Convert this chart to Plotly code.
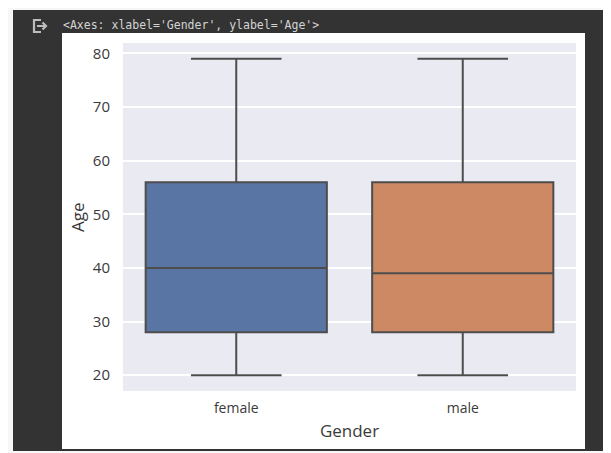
import plotly.graph_objects as go

# ---- data ----
categories = ["female", "male"]
lower_whisker = [20, 20]
q1_values = [28, 28]
medians = [40, 39]
q3_values = [56, 56]
upper_whisker = [79, 79]
y_ticks = [20, 30, 40, 50, 60, 70, 80]
header_text = "<Axes: xlabel='Gender', ylabel='Age'>"
x_title = "Gender"
y_title = "Age"

fill_colors = ["#5875a4", "#cc8963"]
line_gray = "#4d4d4d"

OFF = 8  # default body margin of the html page
W, H = 611 - OFF, 453 - OFF
L, R, T, B = 123 - OFF, 576 - OFF, 43 - OFF, 391 - OFF  # plot area in figure pixels


def px(x):
    return (x - OFF - L) / (R - L)


def py(y):
    return (B - (y - OFF)) / (B - T)


fig = go.Figure()
for i, cat in enumerate(categories):
    fig.add_trace(go.Box(
        x=[cat],
        q1=[q1_values[i]],
        median=[medians[i]],
        q3=[q3_values[i]],
        lowerfence=[lower_whisker[i]],
        upperfence=[upper_whisker[i]],
        fillcolor=fill_colors[i],
        line=dict(color=line_gray, width=2),
        width=0.8,
        whiskerwidth=0.5,
        boxpoints=False,
        showlegend=False,
        hoverinfo="skip",
    ))

shapes = [
    # dark notebook cell background
    dict(type="rect", xref="paper", yref="paper",
         x0=px(13), x1=px(620), y0=py(10), y1=py(451),
         fillcolor="#333333", line=dict(width=0), layer="below"),
    # white figure background
    dict(type="rect", xref="paper", yref="paper",
         x0=px(62), x1=px(585), y0=py(33), y1=py(449),
         fillcolor="#ffffff", line=dict(width=0), layer="below"),
    # axes background
    dict(type="rect", xref="paper", yref="paper",
         x0=0, x1=1, y0=0, y1=1,
         fillcolor="#eaeaf2", line=dict(width=0), layer="below"),
    # output icon: bracket
    dict(type="path", xref="paper", yref="paper",
         path=f"M {px(41)},{py(20)} L {px(34)},{py(20)} L {px(34)},{py(32)} L {px(41)},{py(32)}",
         line=dict(color="#bdbdbd", width=2.2), layer="above"),
    # output icon: arrow
    dict(type="path", xref="paper", yref="paper",
         path=f"M {px(37)},{py(26)} L {px(46)},{py(26)} M {px(42.5)},{py(22.5)} L {px(46)},{py(26)} L {px(42.5)},{py(29.5)}",
         line=dict(color="#bdbdbd", width=2.2), layer="above"),
]

fig.update_layout(
    width=W, height=H,
    margin=dict(l=L, r=W - R, t=T, b=H - B, pad=0),
    paper_bgcolor="#f7f7f7",
    plot_bgcolor="#eaeaf2",
    boxmode="overlay",
    shapes=shapes,
    font=dict(family="Open Sans", color="#3a3a3a"),
    xaxis=dict(
        type="category",
        range=[-0.5, 1.5],
        showgrid=False,
        zeroline=False,
        showline=False,
        ticks="",
        ticklabelstandoff=7,
        tickfont=dict(size=14, color="#3a3a3a"),
        title=dict(text=x_title, font=dict(size=17, color="#3a3a3a"), standoff=9),
    ),
    yaxis=dict(
        range=[17.05, 81.95],
        tickvals=y_ticks,
        showgrid=True,
        gridcolor="#ffffff",
        gridwidth=1.5,
        zeroline=False,
        showline=False,
        ticks="",
        ticklabelstandoff=12,
        tickfont=dict(size=15, color="#3a3a3a"),
    ),
    annotations=[
        dict(xref="paper", yref="paper", x=px(61), y=py(25),
             xanchor="left", yanchor="middle", showarrow=False,
             text=header_text.replace("<", "&lt;").replace(">", "&gt;"),
             font=dict(family="DejaVu Sans Mono", size=11.5, color="#d4d4d4")),
        dict(xref="paper", yref="paper", x=px(77), y=py(217),
             xanchor="center", yanchor="middle", showarrow=False,
             textangle=-90, text=y_title,
             font=dict(size=17, color="#3a3a3a")),
    ],
)

fig.write_html("out.html")
